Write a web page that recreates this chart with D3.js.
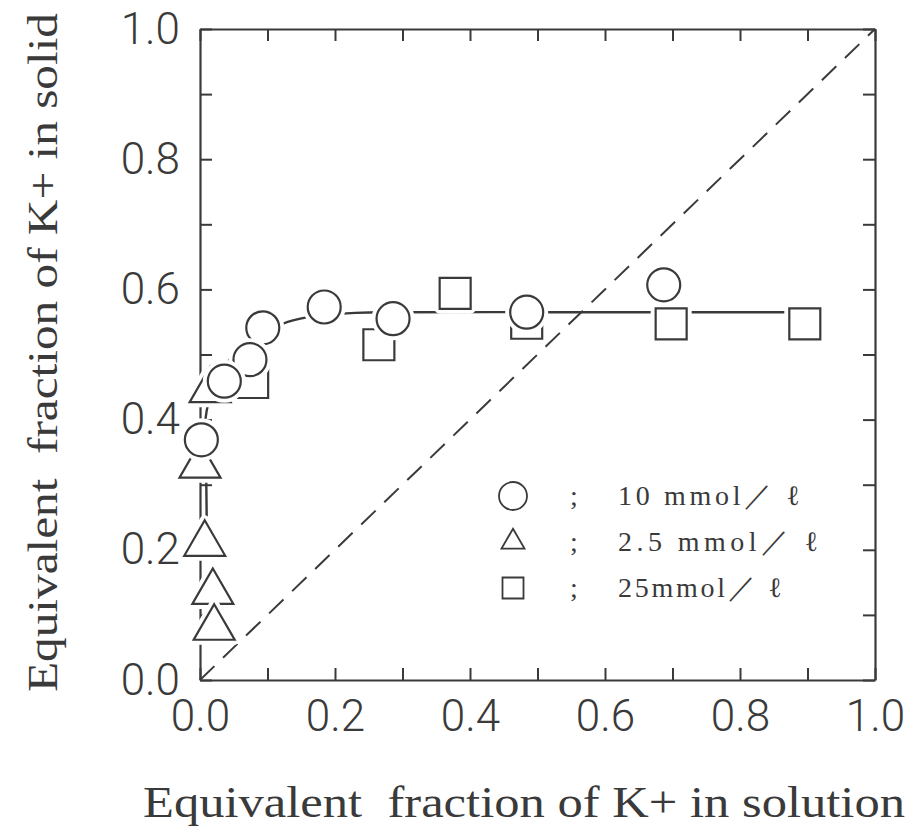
<!DOCTYPE html>
<html>

<head>
    <meta charset="utf-8">
    <style>
        body {
            margin: 0;
            background: #fff;
        }

        .tick text {
            fill: #3a3a3a;
            font-size: 44px;
            font-weight: 300;
            font-family: Roboto, sans-serif;
        }
    </style>
    <script src="https://cdnjs.cloudflare.com/ajax/libs/d3/7.8.5/d3.min.js"></script>
    <title>K+ exchange isotherm</title>
</head>

<body>

    <div id="chart"></div>

    <script>

        // values
        // circles : 10 mmol/l
        var circleX = [0.002, 0.036, 0.074, 0.093, 0.184, 0.286, 0.484, 0.687];
        var circleY = [0.369, 0.459, 0.492, 0.541, 0.573, 0.555, 0.565, 0.607];
        // triangles : 2.5 mmol/l
        var triangleX = [0.000, 0.015, 0.007, 0.019, 0.021];
        var triangleY = [0.329, 0.445, 0.209, 0.135, 0.080];
        // squares : 25 mmol/l
        var squareX = [0.078, 0.265, 0.378, 0.484, 0.698, 0.896];
        var squareY = [0.457, 0.515, 0.594, 0.548, 0.547, 0.547];

        // the hand drawn curve through the points
        var curveX = [0.010, 0.009, 0.008, 0.020, 0.050, 0.090, 0.130, 0.170, 0.230, 0.300, 0.500, 0.700, 0.900];
        var curveY = [0.240, 0.330, 0.400, 0.450, 0.500, 0.530, 0.550, 0.559, 0.564, 0.565, 0.565, 0.565, 0.565];

        // diagonal x = y
        var diagonal = [0, 1];

        var tickValues = [0, 0.1, 0.2, 0.3, 0.4, 0.5, 0.6, 0.7, 0.8, 0.9, 1.0];
        var tickLabels = ["0.0", "", "0.2", "", "0.4", "", "0.6", "", "0.8", "", "1.0"];

        var legendLabels = ["10 mmol／ ℓ", "2.5 mmol／ ℓ", "25mmol／ ℓ"];
        var legendShapes = ["circle", "triangle", "square"];

        var xTitle = "Equivalent  fraction of K+ in solution";
        var yTitle = "Equivalent  fraction of K+ in solid";

        var ink = "#3a3a3a";

        // set the dimensions and margins of the graph
        var margin = { top: 29, right: 38, bottom: 150, left: 200 },
            width = 913 - margin.left - margin.right,
            height = 830 - margin.top - margin.bottom;

        var svg0 = d3.select("#chart")
            .append("svg")
            .attr("width", width + margin.left + margin.right)
            .attr("height", height + margin.top + margin.bottom);

        var svg = svg0.append("g")
            .attr("transform", "translate(" + margin.left + "," + margin.top + ")");

        var x = d3.scaleLinear().domain([0, 1]).range([0, width]);
        var y = d3.scaleLinear().domain([0, 1]).range([height, 0]);

        // frame with inward ticks on all four sides
        function styleAxis(g) {
            g.select(".domain").attr("stroke", ink).attr("stroke-width", 2.2);
            g.selectAll(".tick line").attr("stroke", ink).attr("stroke-width", 2);
        }

        svg.append("g")
            .attr("transform", "translate(0," + height + ")")
            .call(d3.axisBottom(x).tickValues(tickValues).tickSizeInner(-12).tickSizeOuter(0).tickPadding(20)
                .tickFormat(function (d, i) { return tickLabels[i]; }))
            .call(styleAxis);

        svg.append("g")
            .call(d3.axisTop(x).tickValues(tickValues).tickSizeInner(-12).tickSizeOuter(0).tickFormat(""))
            .call(styleAxis);

        svg.append("g")
            .call(d3.axisLeft(y).tickValues(tickValues).tickSizeInner(-12).tickSizeOuter(0).tickPadding(20)
                .tickFormat(function (d, i) { return tickLabels[i]; }))
            .call(styleAxis);

        svg.append("g")
            .attr("transform", "translate(" + width + ",0)")
            .call(d3.axisRight(y).tickValues(tickValues).tickSizeInner(-12).tickSizeOuter(0).tickFormat(""))
            .call(styleAxis);

        svg.selectAll(".tick text").attr("fill", ink);

        // dashed diagonal
        svg.append("line")
            .attr("x1", x(diagonal[0])).attr("y1", y(diagonal[0]))
            .attr("x2", x(diagonal[1])).attr("y2", y(diagonal[1]))
            .attr("stroke", ink)
            .attr("stroke-width", 2)
            .attr("stroke-dasharray", "20,12");

        // fitted curve
        var line = d3.line()
            .x(function (i) { return x(curveX[i]); })
            .y(function (i) { return y(curveY[i]); })
            .curve(d3.curveCatmullRom);

        svg.append("path")
            .attr("d", line(d3.range(curveX.length)))
            .attr("fill", "none")
            .attr("stroke", ink)
            .attr("stroke-width", 2.4);

        // markers: white halo first so lines break around them
        function markers(xs, ys, type, size, order) {
            var sym = d3.symbol().type(type).size(size);
            var g = svg.append("g");
            var idx = d3.range(xs.length);
            if (order) idx.reverse();
            idx.forEach(function (i) {
                var t = "translate(" + x(xs[i]) + "," + y(ys[i]) + ")";
                g.append("path").attr("d", sym()).attr("transform", t)
                    .attr("fill", "#fff").attr("stroke", "#fff")
                    .attr("stroke-width", 10).attr("stroke-linejoin", "round");
                g.append("path").attr("d", sym()).attr("transform", t)
                    .attr("fill", "#fff").attr("stroke", ink)
                    .attr("stroke-width", 2.2);
            });
        }

        markers(squareX, squareY, d3.symbolSquare, 31 * 31, false);
        markers(triangleX, triangleY, d3.symbolTriangle, 0.433 * 41 * 41, false);
        markers(circleX, circleY, d3.symbolCircle, Math.PI * 16.5 * 16.5, true);

        // handmade legend
        var legendY = d3.scalePoint().domain(legendLabels).range([476, 568]);
        var legendSym = {
            circle: d3.symbol().type(d3.symbolCircle).size(Math.PI * 14 * 14),
            triangle: d3.symbol().type(d3.symbolTriangle).size(0.433 * 23 * 23),
            square: d3.symbol().type(d3.symbolSquare).size(21 * 21)
        };

        legendLabels.forEach(function (lab, i) {
            var yy = legendY(lab);
            svg.append("path")
                .attr("d", legendSym[legendShapes[i]]())
                .attr("transform", "translate(313," + (yy - 9) + ")")
                .attr("fill", "none")
                .attr("stroke", ink)
                .attr("stroke-width", 1.8);
            svg.append("text")
                .attr("x", 370).attr("y", yy)
                .text(";")
                .style("font-family", "'Liberation Serif', serif")
                .style("font-size", "28px")
                .attr("fill", ink);
            svg.append("text")
                .attr("x", 418).attr("y", yy)
                .attr("textLength", lab.length * 18.2)
                .attr("lengthAdjust", "spacing")
                .style("white-space", "pre")
                .text(lab)
                .style("font-family", "'Liberation Serif', serif")
                .style("font-size", "28px")
                .attr("fill", ink);
        });

        // axis titles
        svg0.append("text")
            .attr("x", 143).attr("y", 817)
            .attr("textLength", 762)
            .attr("lengthAdjust", "spacingAndGlyphs")
            .style("white-space", "pre")
            .style("font-family", "'Liberation Serif', serif")
            .style("font-size", "44px")
            .attr("fill", ink)
            .text(xTitle);

        svg0.append("text")
            .attr("transform", "translate(57,692) rotate(-90)")
            .attr("textLength", 679)
            .attr("lengthAdjust", "spacingAndGlyphs")
            .style("white-space", "pre")
            .style("font-family", "'Liberation Serif', serif")
            .style("font-size", "42px")
            .attr("fill", ink)
            .text(yTitle);

    </script>

</body>

</html>
